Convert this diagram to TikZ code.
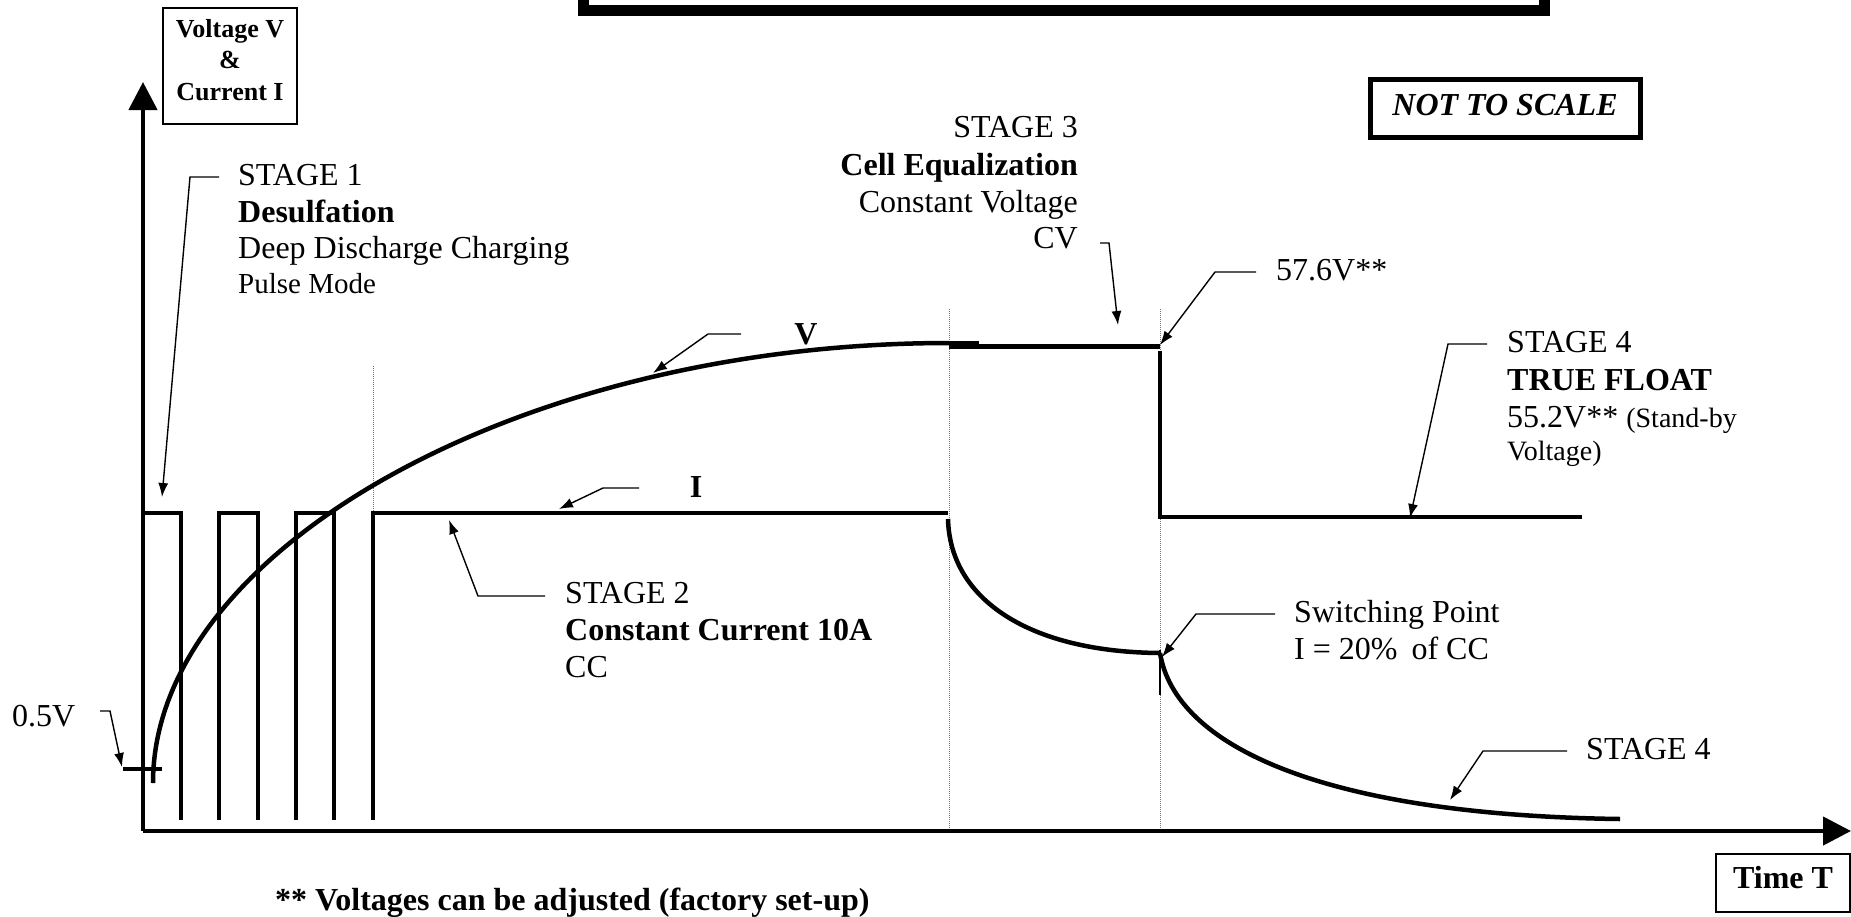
\documentclass[tikz,border=0pt]{standalone}
\usepackage{fontspec}
\setmainfont{Liberation Serif}
\usetikzlibrary{arrows.meta}

\tikzset{
  curve/.style={line width=4.5pt},
  lead/.style={line width=1.4pt, -{Latex[length=14pt,width=10pt]}},
  guide/.style={densely dotted, line width=1pt, black!55},
  axis/.style={line width=4.5pt, -{Triangle[length=28pt,width=28pt]}},
  big/.style={font=\fontsize{32}{38}\selectfont},
  small/.style={font=\fontsize{29}{34}\selectfont},
}

\begin{document}
\begin{tikzpicture}[x=1pt,y=-1pt]
      \useasboundingbox (0,0) rectangle (1851,916);

      % frames
      \draw[line width=11pt] (583.5,-30) rectangle (1544.5,10.5);
      \draw[line width=5pt] (1370.5,79.5) rectangle (1640.5,137.5);
      \draw[line width=2pt] (163,8) rectangle (297,124);
      \draw[line width=2pt] (1716,854) rectangle (1850,912);

      % guide lines
      \draw[guide] (373,366) -- (373,513);
      \draw[guide] (949,309) -- (949,831);
      \draw[guide] (1160,309) -- (1160,831);

      % axes
      \coordinate (o) at (143,831);
      \coordinate (ytop) at (143,82);
      \coordinate (xend) at (1851,831);
      \draw[axis] (o) -- (ytop);
      \draw[axis] (o) -- (xend);

      % current
      \draw[curve] (144,513) -- (181,513) -- (181,820);
      \foreach \a/\b in {219/258, 296/334}
        \draw[curve] (\a,820) -- (\a,513) -- (\b,513) -- (\b,820);
      \draw[curve] (373,820) -- (373,513) -- (948,513);
      \draw[curve] (948,519) .. controls (950,600) and (1030,652) .. (1160,653);
      \draw[curve] (1160,653) .. controls (1175,745) and (1320,815) .. (1620,819);
      \draw[line width=2pt] (1160,650) -- (1160,695);

      % voltage
      \draw[curve] (123,769) -- (162,769);
      \draw[curve] (153,783) .. controls (153,550) and (520,343) .. (949,343);
      \draw[line width=7pt] (949,344.5) -- (979,344.5);
      \draw[curve] (949,346.5) -- (1160,346.5);
      \draw[curve] (1160,351) -- (1160,517) -- (1582,517);

      % labels
      \begin{scope}[every node/.style={inner sep=0pt, anchor=base west, big}]
        \node (s1a) at (238,185) {STAGE 1};
        \node (s1b) at (238,222) {\bfseries Desulfation};
        \node (s1c) at (238,258) {Deep Discharge Charging};
        \node[small] (s1d) at (238,293) {Pulse Mode};
        \node (s2a) at (565,603) {STAGE 2};
        \node (s2b) at (565,640) {\bfseries Constant Current 10A};
        \node (s2c) at (565,677) {CC};
        \node[anchor=base east] (s3a) at (1078,137) {STAGE 3};
        \node[anchor=base east] (s3b) at (1078,175) {\bfseries Cell Equalization};
        \node[anchor=base east] (s3c) at (1078,212) {Constant Voltage};
        \node[anchor=base east] (s3d) at (1078,248) {CV};
        \node (hi) at (1276,280) {57.6V**};
        \node (s4a) at (1507,352) {STAGE 4};
        \node (s4b) at (1507,390) {\bfseries TRUE FLOAT};
        \node (s4c) at (1507,427) {55.2V** {\fontsize{28}{33}\selectfont(Stand-by}};
        \node[font=\fontsize{28}{33}\selectfont] (s4d) at (1507,460) {Voltage)};
        \node (sw1) at (1294,622) {Switching Point};
        \node (sw2) at (1294,659) {I = 20\%\hspace{6pt} of CC};
        \node (s4e) at (1586,759) {STAGE 4};
        \node (lo) at (12,726) {0.5V};
        \node[anchor=base] (vv) at (806,344) {\bfseries V};
        \node[anchor=base] (ii) at (696,497) {\bfseries I};
        \node (note) at (275,910) {\bfseries ** Voltages can be adjusted (factory set-up)};
        \node[anchor=base] (nts) at (1505,115) {\bfseries\itshape NOT TO SCALE};
        \node[anchor=base] (tt) at (1783,888) {\bfseries Time T};
      \end{scope}

      \begin{scope}[every node/.style={inner sep=0pt, anchor=base,
          font=\fontsize{26}{30}\selectfont\bfseries}]
        \node (ax1) at (230,37) {Voltage V};
        \node (ax2) at (230,68) {\&};
        \node (ax3) at (230,100) {Current I};
      \end{scope}

      % leaders
      \coordinate (s1p) at (219,177);  \coordinate (s1q) at (190,177);  \coordinate (s1t) at (162,497);
      \coordinate (lop) at (100,711);  \coordinate (loq) at (110,711);  \coordinate (lot) at (122,767);
      \coordinate (vvp) at (741,334);  \coordinate (vvq) at (708,334);  \coordinate (vvt) at (653,373);
      \coordinate (iip) at (639,488);  \coordinate (iiq) at (603,488);  \coordinate (iit) at (559,509);
      \coordinate (s2p) at (545,596);  \coordinate (s2q) at (478,596);  \coordinate (s2t) at (449,520);
      \coordinate (s3p) at (1100,243); \coordinate (s3q) at (1109,243); \coordinate (s3t) at (1118,325);
      \coordinate (hip) at (1256,272); \coordinate (hiq) at (1215,272); \coordinate (hit) at (1160,345);
      \coordinate (s4p) at (1487,344); \coordinate (s4q) at (1448,344); \coordinate (s4t) at (1410,518);
      \coordinate (swp) at (1275,614); \coordinate (swq) at (1196,614); \coordinate (swt) at (1162,657);
      \coordinate (s5p) at (1567,751); \coordinate (s5q) at (1483,751); \coordinate (s5t) at (1450,800);

      \foreach \n in {s1,lo,vv,ii,s2,s3,hi,s4,sw,s5}
        \draw[lead] (\n p) -- (\n q) -- (\n t);

\end{tikzpicture}
\end{document}
